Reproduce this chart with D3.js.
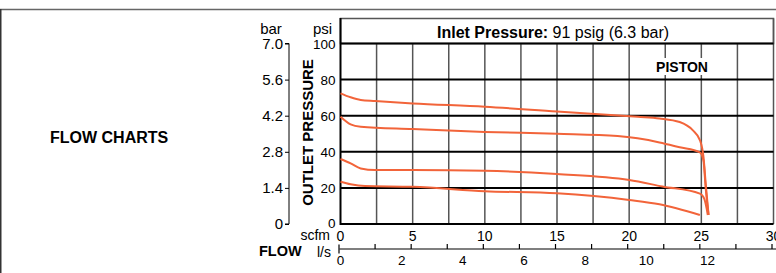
<!DOCTYPE html>
<html>
<head>
<meta charset="utf-8">
<script src="https://cdn.jsdelivr.net/npm/d3@7"></script>
<style>
  body { margin: 0; background: #fff; }
  svg { display: block; font-family: "Liberation Sans", Arial, sans-serif; }
</style>
</head>
<body>
<div id="wrapper"></div>
<script>
// data (scfm, psi)
const curveTop = [[0, 72.4], [0.7, 70.2], [1.4, 68.7], [2.4, 68.1], [5, 66.8], [10, 65], [15, 62.3], [20.6, 59.4], [22.1, 58.5], [23.5, 56.5], [24.4, 52], [24.9, 46.5], [25.15, 37], [25.3, 22.7], [25.5, 5]];
const curveUpper = [[0, 59.4], [0.7, 55.2], [1.4, 53.9], [5, 52.6], [10, 51], [15, 50], [19.2, 48.7], [22.1, 45.2], [23.5, 42.5], [24.9, 39.7], [25.15, 35], [25.3, 20], [25.5, 5]];
const curveLower = [[0, 36], [0.7, 33.6], [1.4, 30.8], [2.4, 29.9], [5, 29.9], [10, 29.5], [15, 27.7], [20, 24.4], [22.3, 20.8], [24.9, 16.8], [25.2, 14], [25.45, 5]];
const curveBottom = [[0, 23.4], [0.7, 22], [1.7, 21], [5, 20.6], [10, 18.2], [15, 17], [20, 13.3], [22.1, 10.9], [24.9, 5]];
const curves = [curveTop, curveUpper, curveLower, curveBottom];

const psiTicks = [0, 20, 40, 60, 80, 100];
const barTicks = [0, 1.4, 2.8, 4.2, 5.6, 7.0];
const scfmTicks = [0, 5, 10, 15, 20, 25, 30];
const scfmGrid = [2.5, 5, 7.5, 10, 12.5, 15, 17.5, 20, 22.5, 25, 27.5];
const flowAxisTicks = [0, 2.5, 5, 7.5, 10, 12.5, 15, 17.5, 20, 22.5, 25, 27.5, 30];
const lpsTicks = [0, 2, 4, 6, 8, 10, 12];
const scfmPerLps = 2.11888;

const width = 776, height = 273;
const svg = d3.select("#wrapper").append("svg")
  .attr("width", width).attr("height", height);

// page frame
svg.append("line").attr("x1", 0).attr("x2", width).attr("y1", 9.5).attr("y2", 9.5)
  .attr("stroke", "#666").attr("stroke-width", 1.5);
svg.append("line").attr("x1", 0.75).attr("x2", 0.75).attr("y1", 9).attr("y2", height)
  .attr("stroke", "#333").attr("stroke-width", 1.5);

const xScale = d3.scaleLinear().domain([0, 30]).range([340.5, 773.5]);
const yScale = d3.scaleLinear().domain([0, 100]).range([224, 43.5]);
const barScale = d3.scaleLinear().domain([0, 7]).range([224, 43.5]);

// grid
svg.append("g").selectAll("line").data(scfmGrid).join("line")
  .attr("x1", d => xScale(d)).attr("x2", d => xScale(d))
  .attr("y1", yScale(100)).attr("y2", yScale(0))
  .attr("stroke", "#555").attr("stroke-width", 1.5);

svg.append("rect")
  .attr("x", xScale(0)).attr("y", 18.5)
  .attr("width", xScale(30) - xScale(0)).attr("height", yScale(100) - 18.5)
  .attr("fill", "#fff").attr("stroke", "#555").attr("stroke-width", 1.5);
svg.append("line").attr("x1", xScale(30)).attr("x2", xScale(30))
  .attr("y1", 18.5).attr("y2", yScale(0)).attr("stroke", "#555").attr("stroke-width", 1.5);

svg.append("g").selectAll("line").data(psiTicks.filter(d => d > 0)).join("line")
  .attr("x1", xScale(0)).attr("x2", xScale(30))
  .attr("y1", d => yScale(d)).attr("y2", d => yScale(d))
  .attr("stroke", "#000").attr("stroke-width", 2);

svg.append("line").attr("x1", xScale(0)).attr("x2", xScale(0))
  .attr("y1", 18).attr("y2", yScale(0) + 1).attr("stroke", "#000").attr("stroke-width", 2);
svg.append("line").attr("x1", xScale(0)).attr("x2", xScale(30))
  .attr("y1", yScale(0)).attr("y2", yScale(0)).attr("stroke", "#000").attr("stroke-width", 2);

// labels inside plot
const inlet = svg.append("text").attr("x", 437).attr("y", 38)
  .attr("font-size", 16).attr("fill", "#000");
inlet.append("tspan").attr("font-weight", "bold").text("Inlet Pressure:");
inlet.append("tspan").text(" 91 psig (6.3 bar)");

svg.append("rect").attr("x", 653).attr("y", 58).attr("width", 57).attr("height", 17).attr("fill", "#fff");
svg.append("text").attr("x", 682).attr("y", 72).attr("text-anchor", "middle")
  .attr("font-size", 14).attr("font-weight", "bold").text("PISTON");

// curves
const line = d3.line()
  .x(d => xScale(d[0])).y(d => yScale(d[1]))
  .curve(d3.curveMonotoneX);
svg.append("g").selectAll("path").data(curves).join("path")
  .attr("d", line).attr("fill", "none")
  .attr("stroke", "#f2643a").attr("stroke-width", 2);

// psi axis labels
svg.append("g").selectAll("text").data(psiTicks).join("text")
  .attr("x", 335.5).attr("y", d => yScale(d) + (d === 0 ? 3.5 : 5))
  .attr("text-anchor", "end").attr("font-size", 13.5).text(d => d);
svg.append("text").attr("x", 322.5).attr("y", 33.5).attr("text-anchor", "middle")
  .attr("font-size", 15).text("psi");

// bar axis
const barAxis = svg.append("g").attr("transform", "translate(289,0)")
  .call(d3.axisLeft(barScale).tickValues(barTicks).tickSize(4).tickPadding(2)
    .tickFormat(d => d === 0 ? "0" : d3.format(".1f")(d)));
barAxis.select(".domain").attr("d", `M-4,${barScale(7)}H0V${barScale(0)}H-4`).attr("stroke", "#000");
barAxis.selectAll("text").attr("font-size", 15).attr("font-family", "Liberation Sans, Arial, sans-serif").attr("fill", "#000");
svg.append("text").attr("x", 271).attr("y", 33.5).attr("text-anchor", "middle")
  .attr("font-size", 15).text("bar");

svg.append("text")
  .attr("transform", `translate(312.5,${(63 + 202) / 2}) rotate(-90)`)
  .attr("text-anchor", "middle").attr("font-size", 15).attr("font-weight", "bold")
  .text("OUTLET PRESSURE");

// scfm labels
svg.append("g").selectAll("text").data(scfmTicks).join("text")
  .attr("x", d => xScale(d)).attr("y", 241)
  .attr("text-anchor", "middle").attr("font-size", 14).text(d => d);
svg.append("text").attr("x", 330).attr("y", 239.5).attr("text-anchor", "end")
  .attr("font-size", 14).text("scfm");

// flow l/s axis
const flowY = 249;
svg.append("line").attr("x1", xScale(0) - 1).attr("x2", width).attr("y1", flowY).attr("y2", flowY)
  .attr("stroke", "#000").attr("stroke-width", 1.2);
svg.append("line").attr("x1", xScale(0) - 1.5).attr("x2", xScale(0) - 1.5).attr("y1", flowY - 4.5).attr("y2", flowY + 4.5)
  .attr("stroke", "#000").attr("stroke-width", 1.2);
svg.append("g").selectAll("line").data(flowAxisTicks.filter(d => d > 0)).join("line")
  .attr("x1", d => xScale(d) - 1.5).attr("x2", d => xScale(d) - 1.5)
  .attr("y1", flowY - 5).attr("y2", flowY)
  .attr("stroke", "#000").attr("stroke-width", 1.2);
svg.append("g").selectAll("text").data(lpsTicks).join("text")
  .attr("x", d => xScale(d * scfmPerLps)).attr("y", 265)
  .attr("text-anchor", "middle").attr("font-size", 13.5).text(d => d);
svg.append("text").attr("x", 331).attr("y", 256.5).attr("text-anchor", "end")
  .attr("font-size", 14).text("l/s");
svg.append("text").attr("x", 259).attr("y", 256).attr("font-size", 14.5).attr("font-weight", "bold")
  .text("FLOW");

svg.append("text").attr("x", 50).attr("y", 142.5).attr("font-size", 16).attr("font-weight", "bold")
  .text("FLOW CHARTS");
</script>
</body>
</html>
